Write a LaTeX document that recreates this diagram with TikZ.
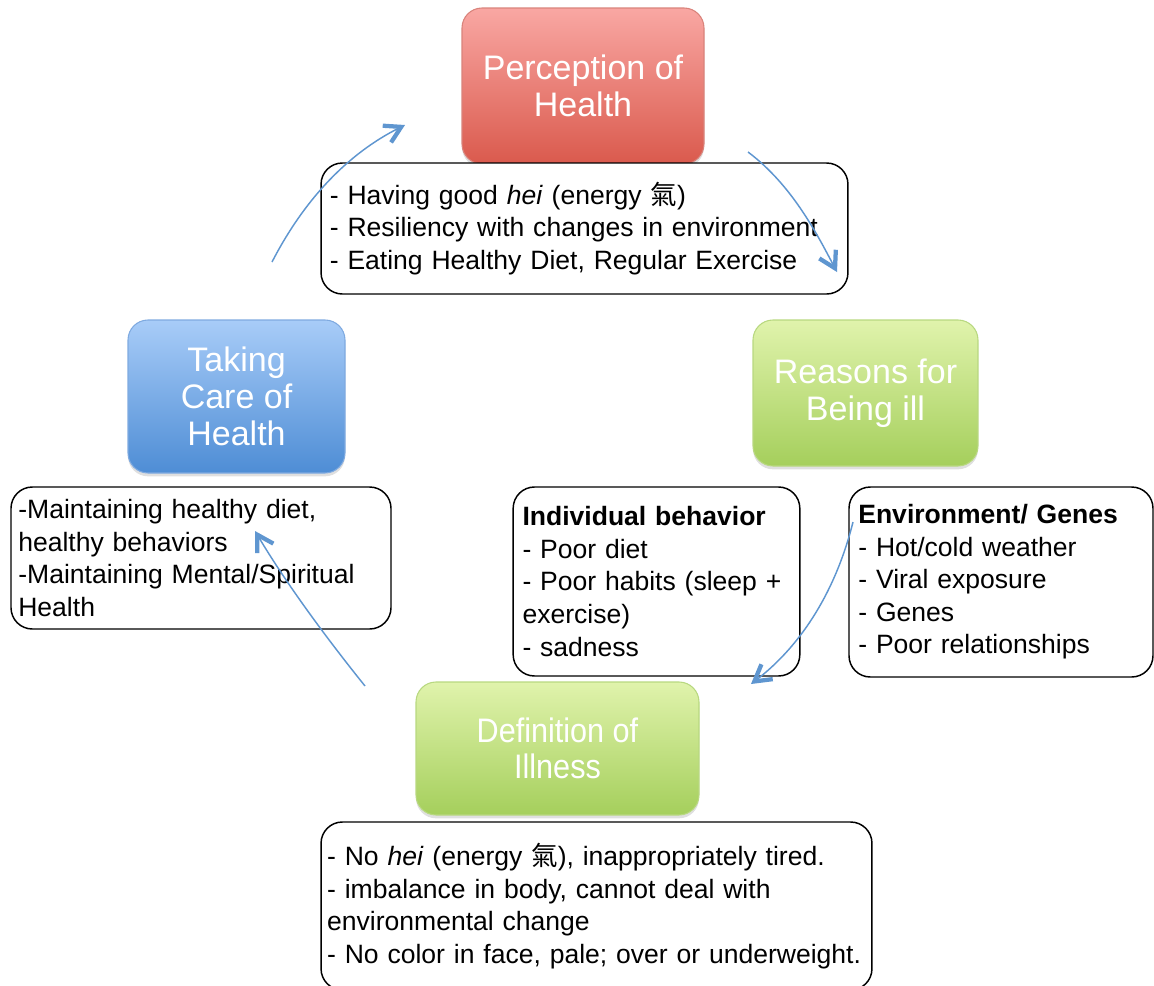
\documentclass[tikz,border=0pt]{standalone}
\usepackage{fontspec}
\setmainfont{Liberation Sans}
\newfontfamily\cjk{Noto Sans CJK TC}
\newfontfamily\narrowsans[FakeStretch=0.9]{Liberation Sans}
\usetikzlibrary{arrows.meta,shadows}
\definecolor{arrowblue}{HTML}{5F96D0}
\definecolor{redtop}{HTML}{F9A7A3}
\definecolor{redbot}{HTML}{DA5A4D}
\definecolor{redline}{HTML}{D9837B}
\definecolor{bluetop}{HTML}{A8CCF8}
\definecolor{bluebot}{HTML}{4E8DD5}
\definecolor{blueline}{HTML}{7FAAE0}
\definecolor{greentop}{HTML}{E0F3AC}
\definecolor{greenbot}{HTML}{A5CF5C}
\definecolor{greenline}{HTML}{B8D880}
\hyphenpenalty=10000
\exhyphenpenalty=10000
\begin{document}
\begin{tikzpicture}[x=0.75pt,y=-0.75pt,
  titlebox/.style={rounded corners=15pt, align=center, text=white, line width=0.8pt,
    font=\fontsize{25.5pt}{27.5pt}\selectfont, inner sep=0pt,
    drop shadow={shadow xshift=0pt,shadow yshift=-2.5pt,opacity=0.25}},
  redbox/.style={titlebox, draw=redline, top color=redtop, bottom color=redbot},
  bluebox/.style={titlebox, draw=blueline, top color=bluetop, bottom color=bluebot},
  greenbox/.style={titlebox, draw=greenline, top color=greentop, bottom color=greenbot},
  textbox/.style={draw=black, line width=1.1pt, fill=white, rounded corners=16pt, align=left,
    font=\fontsize{19.9pt}{24.4pt}\selectfont, inner xsep=7pt, inner ysep=0pt},
  flow/.style={draw=arrowblue, line width=1.1pt,
    -{Straight Barb[length=12pt,width=14pt,line width=3.2pt]}}
]
\useasboundingbox (0,0) rectangle (1154,986);

% title boxes
\node[redbox, minimum width=181.5pt, minimum height=117pt] (perc) at (583,86) {Perception of\\Health};
\node[bluebox, minimum width=162.75pt, minimum height=114.75pt] (care) at (236.5,396.5) {Taking\\Care of\\Health};
\node[greenbox, minimum width=168.75pt, minimum height=109.5pt] (reas) at (865.5,393) {Reasons for\\Being ill};
\node[greenbox, minimum width=212.25pt, minimum height=99.75pt,
  font=\narrowsans\fontsize{25.5pt}{27.5pt}\selectfont] (defn) at (557.5,748.5) {Definition of\\Illness};

% text boxes
\node[textbox, text width=382pt, inner xsep=6.6pt, minimum height=98.25pt] (ptext) at (584.5,228.5)
  {- Having good \textit{hei} (energy {\cjk 氣})\\
   - Resiliency with changes in environment\\
   - Eating Healthy Diet, Regular Exercise};
\node[textbox, text width=274pt, inner xsep=5.5pt, minimum height=106.5pt] (ctext) at (201,558)
  {-Maintaining healthy diet,\\
   healthy behaviors\\
   -Maintaining Mental/Spiritual\\
   Health};
\node[textbox, text width=201pt, minimum height=141.75pt] (itext) at (656.5,581.5)
  {\textbf{Individual behavior}\\
   - Poor diet\\
   - Poor habits (sleep +\\
   exercise)\\
   - sadness};
\node[textbox, text width=214pt, minimum height=142.5pt] (etext) at (1001,582)
  {\textbf{Environment/ Genes}\\
   - Hot/cold weather\\
   - Viral exposure\\
   - Genes\\
   - Poor relationships};
\node[textbox, text width=404pt, inner xsep=4.6pt, minimum height=126pt] (dtext) at (596.5,906)
  {- No \textit{hei} (energy {\cjk 氣}), inappropriately tired.\\
   - imbalance in body, cannot deal with\\
   environmental change\\
   - No color in face, pale; over or underweight.};

% connectors
\coordinate (a1s) at (272,262); \coordinate (a1e) at (405,125);
\coordinate (a2s) at (748,152); \coordinate (a2e) at (837,272);
\coordinate (a3s) at (853,522); \coordinate (a3e) at (751,684);
\coordinate (a4s) at (365,686); \coordinate (a4e) at (255,531);
\draw[flow] (a1s) .. controls (305,198) and (349,153) .. (a1e);
\draw[flow] (a2s) .. controls (792,185) and (817,234) .. (a2e);
\draw[flow] (a3s) .. controls (836,590) and (802,645) .. (a3e);
\draw[flow] (a4s) .. controls (320,630) and (283,578) .. (a4e);
\end{tikzpicture}
\end{document}
